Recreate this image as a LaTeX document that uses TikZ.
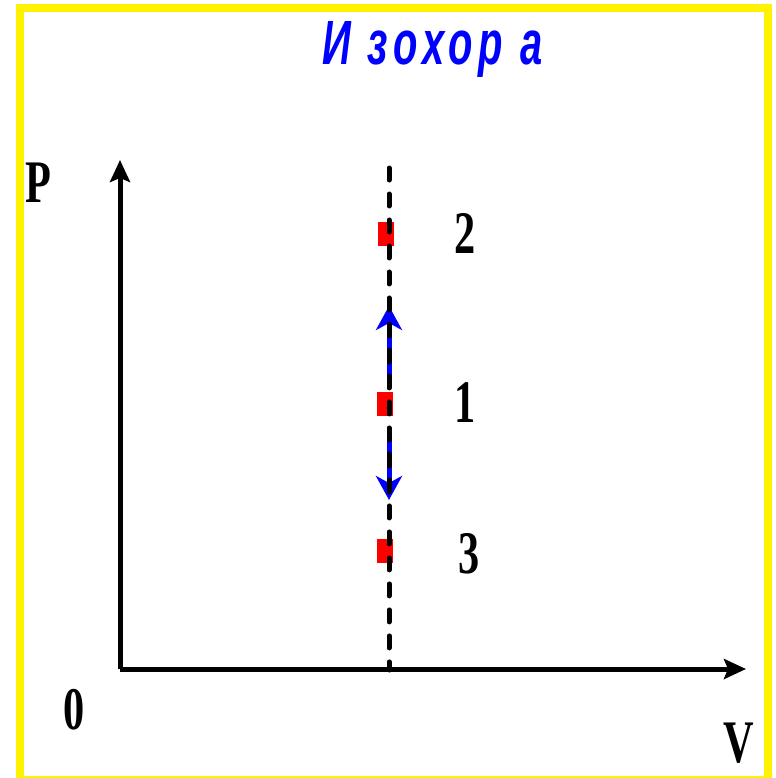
\documentclass[tikz,border=0pt]{standalone}
\usepackage{fontspec}
\setmainfont{Liberation Serif}
\newfontfamily\titlefont{Liberation Sans}[LetterSpace=14]
\usetikzlibrary{arrows.meta}
\newcommand{\lbl}[1]{\scalebox{0.7}[1]{\fontsize{34.4}{36}\selectfont\bfseries #1}}

\begin{document}
\begin{tikzpicture}[
  x=0.02cm, y=-0.02cm,
  frame/.style={draw=yellow,line width=0.16cm},
  axis/.style={line width=0.1cm,-{Stealth[length=0.44cm,width=0.4cm,inset=0.08cm]}},
  isoline/.style={line width=0.1cm,line cap=round,dash pattern=on 0.24cm off 0.28cm},
  flow/.style={blue,line width=0.1cm,-{Stealth[length=0.48cm,width=0.52cm,inset=0.14cm]}},
  state/.style={rectangle,fill=red,inner sep=0pt,minimum width=0.32cm,minimum height=0.48cm},
  tag/.style={anchor=base west,inner sep=0pt}
]
  \useasboundingbox (0,0) rectangle (776,778);
  \draw[frame] (20,8) rectangle (767.5,780);
  \node[tag,text=blue] (title) at (322,64)
    {\resizebox{4.4cm}{0.86cm}{\titlefont\bfseries\itshape И зохор а}};
  \coordinate (o) at (120,669);
  \coordinate (ptip) at (120,160);
  \coordinate (vtip) at (746,669);
  \draw[axis] (o) -- (ptip);
  \draw[axis] (o) -- (vtip);
  \node[state] (s2) at (386,234) {};
  \node[state] (s1) at (385,404) {};
  \node[state] (s3) at (385,551) {};
  \coordinate (u0) at (389,378);
  \coordinate (u1) at (389,306);
  \coordinate (d0) at (389,437);
  \coordinate (d1) at (389,500);
  \draw[flow] (u0) -- (u1);
  \draw[flow] (d0) -- (d1);
  \coordinate (ltop) at (389,168);
  \coordinate (lbot) at (389,670);
  \draw[isoline] (ltop) -- (lbot);
  \node[tag] (l2) at (454,253) {\lbl{2}};
  \node[tag] (l1) at (454,422) {\lbl{1}};
  \node[tag] (l3) at (458,573) {\lbl{3}};
  \node[tag] (lp) at (25,202) {\lbl{P}};
  \node[tag] (l0) at (63,729) {\lbl{0}};
  \node[tag] (lv) at (723,762) {\lbl{V}};
\end{tikzpicture}
\end{document}
